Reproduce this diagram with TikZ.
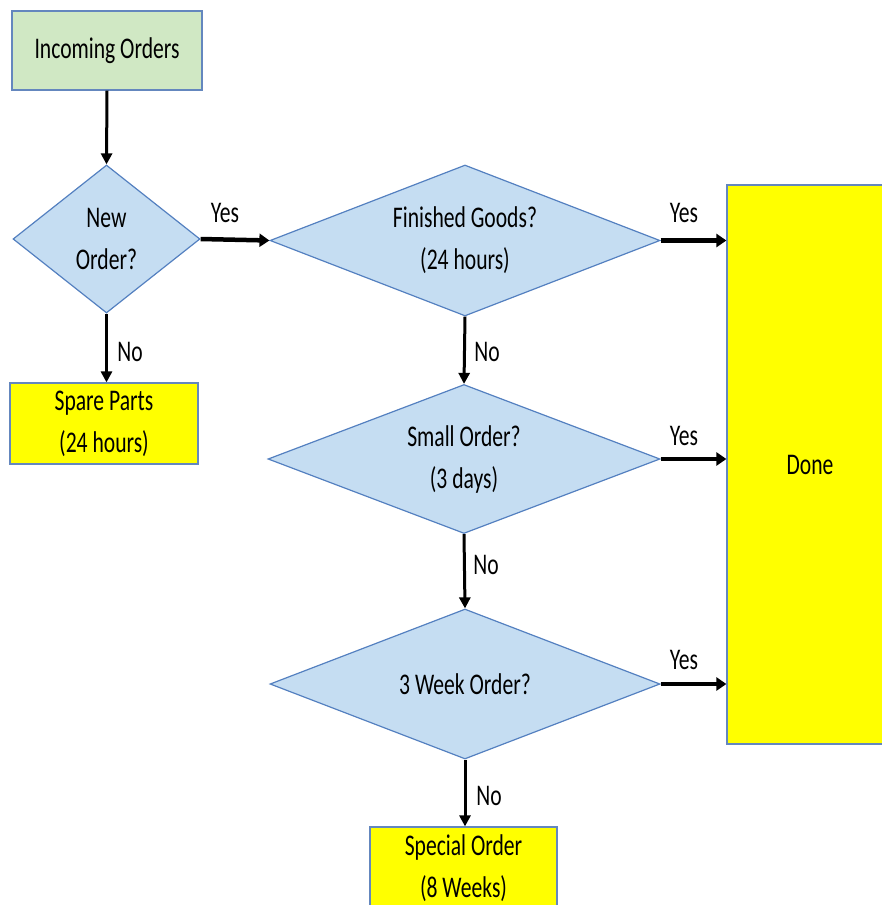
\documentclass[tikz,border=0pt]{standalone}
\usepackage{fontspec}
\setmainfont[FakeStretch=0.72]{Carlito}
\usetikzlibrary{shapes.geometric,arrows.meta}
\definecolor{diafill}{RGB}{197,221,242}
\definecolor{diadraw}{RGB}{84,128,192}
\definecolor{greenfill}{RGB}{208,232,196}
\definecolor{boxdraw}{RGB}{100,135,190}
\definecolor{yel}{RGB}{255,255,0}
\tikzset{
  txt/.style={font=\fontsize{30}{42}\selectfont, align=center, text=black},
  dia/.style={txt, diamond, draw=diadraw, fill=diafill, line width=1.2pt, inner sep=0pt, aspect=2.6},
  greenbox/.style={txt, rectangle, draw=boxdraw, fill=greenfill, line width=1.2pt, inner sep=0pt},
  yelbox/.style={txt, rectangle, draw=boxdraw, fill=yel, line width=1.2pt, inner sep=0pt},
  varrow/.style={-{Triangle[length=11pt,width=11pt]}, line width=3pt, black},
  harrow/.style={-{Triangle[length=10pt,width=13pt]}, line width=4.5pt, black},
  lbl/.style={txt, inner sep=0pt}
}
\begin{document}
\begin{tikzpicture}[x=1pt,y=-1pt]
\useasboundingbox (0,0) rectangle (881,905);
\node[greenbox, minimum width=190pt, minimum height=79pt] (inc) at (107,50.5) {Incoming Orders};
\node[dia, aspect=1.26, minimum width=187pt, minimum height=148pt] (new) at (106.5,239) {New\\Order?};
\node[yelbox, minimum width=188pt, minimum height=81pt] (spare) at (104,423.5) {Spare Parts\\(24 hours)};
\node[dia, minimum width=390pt, minimum height=151pt] (fg) at (465,240.5) {Finished Goods?\\(24 hours)};
\node[dia, minimum width=392pt, minimum height=149pt] (so) at (464,459) {Small Order?\\(3 days)};
\node[dia, minimum width=390pt, minimum height=150pt] (tw) at (465,684) {3 Week Order?};
\node[yelbox, minimum width=166pt, minimum height=559pt] (done) at (810,464.5) {Done};
\node[yelbox, minimum width=187pt, minimum height=82pt] (spec) at (463.5,868) {Special Order\\(8 Weeks)};

\draw[varrow] (inc.south) -- (new.north);
\draw[varrow] (new.south) -- (new.south |- spare.north);
\draw[harrow] (new.east) -- (fg.west);
\draw[varrow] (fg.south) -- (so.north);
\draw[varrow] (so.south) -- (tw.north);
\draw[varrow] (tw.south) -- (tw.south |- spec.north);
\draw[harrow] (fg.east) -- (fg.east -| done.west);
\draw[harrow] (so.east) -- (so.east -| done.west);
\draw[harrow] (tw.east) -- (tw.east -| done.west);

\node[lbl] (l1) at (225,213) {Yes};
\node[lbl] (l2) at (684,213) {Yes};
\node[lbl] (l3) at (684,436) {Yes};
\node[lbl] (l4) at (684,660) {Yes};
\node[lbl] (l5) at (130,352) {No};
\node[lbl] (l6) at (487,352) {No};
\node[lbl] (l7) at (486,565) {No};
\node[lbl] (l8) at (489,796) {No};
\end{tikzpicture}
\end{document}
